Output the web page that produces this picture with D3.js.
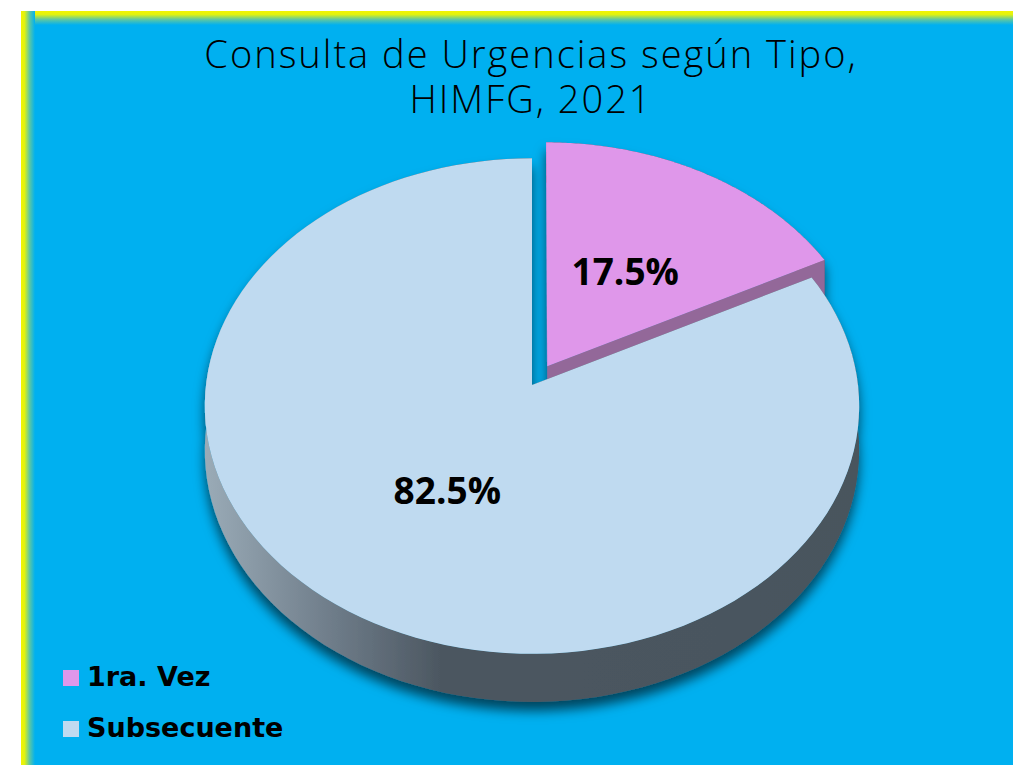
<!DOCTYPE html>
<html>
<head>
<meta charset="utf-8">
<script src="https://cdn.jsdelivr.net/npm/d3@7"></script>
<style>
  body { margin: 0; background: #fff; }
</style>
</head>
<body>
<script>
const categories = ['1ra. Vez', 'Subsecuente'];
const percentages = [17.5, 82.5];
const explodeBy = [0.09, 0];
const titleLines = ['Consulta de Urgencias según Tipo,', 'HIMFG, 2021'];

const topColors = ['#df97ea', '#bfdaf0'];
const cutColors = ['#936899', '#4b5660'];

const width = 1013;
const height = 765;

const svg = d3.select('body')
    .append('svg')
    .attr('width', width)
    .attr('height', height);

const defs = svg.append('defs');

// panel edge glow (yellow fading into blue)
const gTop = defs.append('linearGradient').attr('id', 'edgeTop')
    .attr('x1', 0).attr('y1', 0).attr('x2', 0).attr('y2', 1);
gTop.append('stop').attr('offset', 0).attr('stop-color', '#f4f400');
gTop.append('stop').attr('offset', 0.25).attr('stop-color', '#e0f210');
gTop.append('stop').attr('offset', 0.6).attr('stop-color', '#60c8a0');
gTop.append('stop').attr('offset', 1).attr('stop-color', '#00b0f0');
const gLeft = defs.append('linearGradient').attr('id', 'edgeLeft')
    .attr('x1', 0).attr('y1', 0).attr('x2', 1).attr('y2', 0);
gLeft.append('stop').attr('offset', 0).attr('stop-color', '#f4f400');
gLeft.append('stop').attr('offset', 0.25).attr('stop-color', '#e0f210');
gLeft.append('stop').attr('offset', 0.6).attr('stop-color', '#60c8a0');
gLeft.append('stop').attr('offset', 1).attr('stop-color', '#00b0f0');

svg.append('rect')
    .attr('x', 21).attr('y', 11)
    .attr('width', width - 21).attr('height', height - 11)
    .attr('fill', '#00b0f0');
svg.append('rect')
    .attr('x', 21).attr('y', 11)
    .attr('width', width - 21).attr('height', 14)
    .attr('fill', 'url(#edgeTop)');
svg.append('rect')
    .attr('x', 21).attr('y', 11)
    .attr('width', 14).attr('height', height - 11)
    .attr('fill', 'url(#edgeLeft)');

// side shading
const side = defs.append('linearGradient').attr('id', 'side')
    .attr('gradientUnits', 'userSpaceOnUse')
    .attr('x1', 205).attr('y1', 0).attr('x2', 860).attr('y2', 0);
side.append('stop').attr('offset', 0).attr('stop-color', '#9aabb7');
side.append('stop').attr('offset', 0.2).attr('stop-color', '#6d7b88');
side.append('stop').attr('offset', 0.36).attr('stop-color', '#4c5761');
side.append('stop').attr('offset', 1).attr('stop-color', '#49545d');

const shadow = defs.append('filter').attr('id', 'shadow')
    .attr('x', '-20%').attr('y', '-20%').attr('width', '140%').attr('height', '140%');
shadow.append('feDropShadow')
    .attr('dx', 0).attr('dy', 9)
    .attr('stdDeviation', 6)
    .attr('flood-color', '#000')
    .attr('flood-opacity', 0.6);

// 3D projection of the unit disc
const cx = 532, cy = 385;
const kx = 326, ky = 246, persp = 0.085, thick = 44;

function project(t, r, ox, oz, low) {
    const X = ox + r * Math.sin(t);
    const Z = oz - r * Math.cos(t);
    const depth = 1 - persp * Z;
    return [cx + kx * X / depth, cy + ky * Z / depth + (low ? thick / depth : 0)];
}

const line = d3.line();
const data = categories.map((c, i) => ({ name: c, value: percentages[i], i }));
const arcs = d3.pie().sort(null).value(d => d.value)(data);

const pie = svg.append('g').attr('filter', 'url(#shadow)');

// back slice (exploded) first, front slice on top of it
arcs.forEach(a => {
    const i = a.data.i;
    const mid = (a.startAngle + a.endAngle) / 2;
    const ox = explodeBy[i] * Math.sin(mid);
    const oz = -explodeBy[i] * Math.cos(mid);
    const ts = d3.range(0, 121).map(k => a.startAngle + (a.endAngle - a.startAngle) * k / 120);

    const g = pie.append('g');

    // outer wall
    const wall = ts.map(t => project(t, 1, ox, oz, false))
        .concat(ts.slice().reverse().map(t => project(t, 1, ox, oz, true)));
    g.append('path').attr('d', line(wall) + 'Z').attr('fill', 'url(#side)');

    // cut faces
    [a.startAngle, a.endAngle].forEach(t => {
        const face = [
            project(t, 0, ox, oz, false), project(t, 1, ox, oz, false),
            project(t, 1, ox, oz, true), project(t, 0, ox, oz, true)
        ];
        g.append('path').attr('d', line(face) + 'Z').attr('fill', cutColors[i]);
    });

    // top face
    const topFace = [project(0, 0, ox, oz, false)]
        .concat(ts.map(t => project(t, 1, ox, oz, false)));
    g.append('path').attr('d', line(topFace) + 'Z').attr('fill', topColors[i]);
});

// data labels
arcs.forEach(a => {
    const i = a.data.i;
    const mid = (a.startAngle + a.endAngle) / 2;
    const ox = explodeBy[i] * Math.sin(mid);
    const oz = -explodeBy[i] * Math.cos(mid);
    const p = project(mid, 0.48, ox, oz, false);
    svg.append('text')
        .attr('x', p[0])
        .attr('y', p[1])
        .attr('text-anchor', 'middle')
        .attr('dominant-baseline', 'central')
        .style('font-family', '"Open Sans", sans-serif')
        .style('font-weight', 700)
        .style('font-size', '37px')
        .style('fill', '#000')
        .text(d3.format('.1f')(a.data.value) + '%');
});

// title
svg.selectAll('.title')
    .data(titleLines)
    .join('text')
    .attr('class', 'title')
    .attr('x', 531)
    .attr('y', (d, i) => 68 + i * 45)
    .attr('text-anchor', 'middle')
    .style('font-family', '"Open Sans", sans-serif')
    .style('font-weight', 300)
    .style('font-size', '38px')
    .style('letter-spacing', '2px')
    .style('fill', '#000')
    .text(d => d);

// legend
const legend = svg.selectAll('.legend')
    .data(categories)
    .join('g')
    .attr('class', 'legend')
    .attr('transform', (d, i) => `translate(63, ${670 + i * 51})`);

legend.append('rect')
    .attr('width', 16).attr('height', 16)
    .attr('fill', (d, i) => topColors[i]);

legend.append('text')
    .attr('x', 24)
    .attr('y', 16)
    .style('font-family', '"DejaVu Sans", sans-serif')
    .style('font-weight', 700)
    .style('font-size', '27px')
    .style('fill', '#000')
    .text(d => d);
</script>
</body>
</html>
